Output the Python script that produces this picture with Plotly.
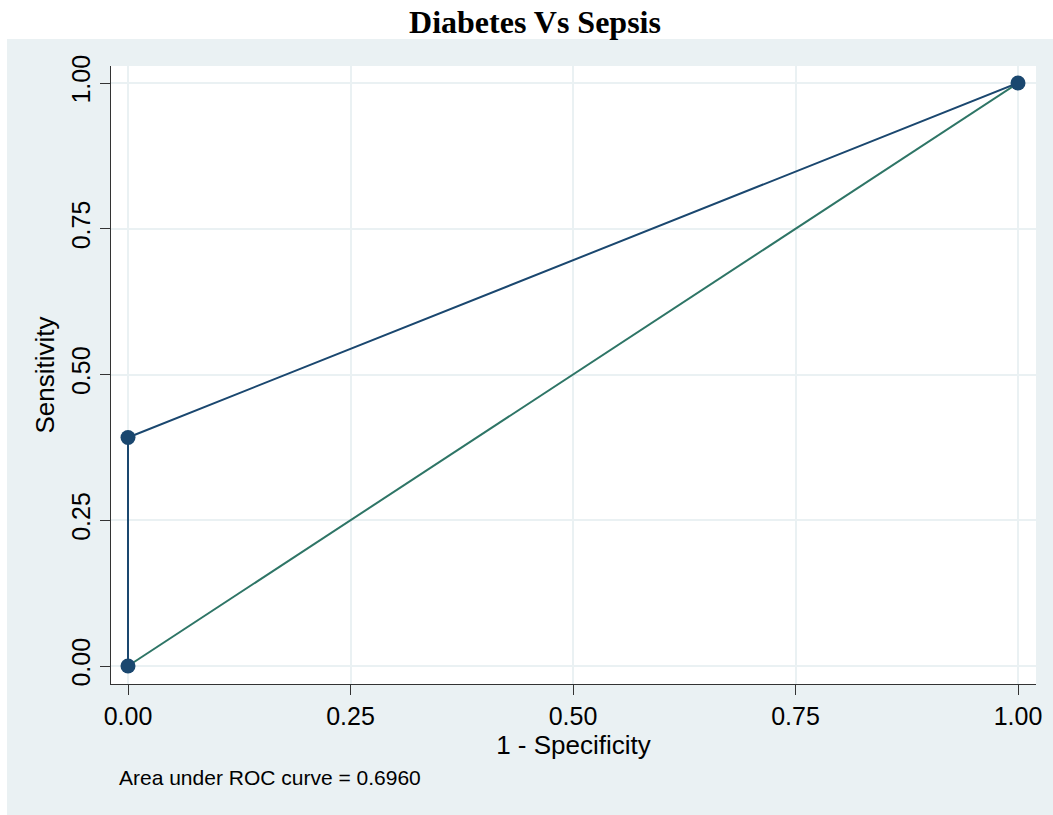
import plotly.graph_objects as go

# Data
roc_fpr = [0.0, 0.0, 1.0]          # 1 - Specificity
roc_sens = [0.0, 0.392, 1.0]       # Sensitivity
ref_x = [0.0, 1.0]
ref_y = [0.0, 1.0]
tick_vals = [0.0, 0.25, 0.5, 0.75, 1.0]
tick_text = ["0.00", "0.25", "0.50", "0.75", "1.00"]
title_text = "Diabetes Vs Sepsis"
auc_text = "Area under ROC curve = 0.6960"

W, H = 1053, 815
L, R, T, B = 111, 1036, 66, 684
pw, ph = R - L, B - T

bg = "#EAF1F3"
navy = "#1A476F"
teal = "#2E7566"
font_sans = "Liberation Sans, Arial, sans-serif"

fig = go.Figure()
fig.add_trace(go.Scatter(x=ref_x, y=ref_y, mode="lines",
                         line=dict(color=teal, width=2), showlegend=False, hoverinfo="skip"))
fig.add_trace(go.Scatter(x=roc_fpr, y=roc_sens, mode="lines+markers",
                         line=dict(color=navy, width=2),
                         marker=dict(color=navy, size=15), showlegend=False))

# background region
fig.add_shape(type="rect", xref="paper", yref="paper",
              x0=(7 - L) / pw, x1=(W + 5 - L) / pw,
              y0=(B - (H + 5)) / ph, y1=(B - 39) / ph,
              fillcolor=bg, line=dict(width=0), layer="below")
fig.add_shape(type="rect", xref="paper", yref="paper",
              x0=0, x1=1, y0=0, y1=1,
              fillcolor="white", line=dict(width=0), layer="below")

x0px, x1px = 128, 1018
y0px, y1px = 666, 83
xs = (x1px - x0px)
ys = (y0px - y1px)
xrange = [-(x0px - L) / xs, 1 + (R - x1px) / xs]
yrange = [-(B - y0px) / ys, 1 + (y1px - T) / ys]

axis_common = dict(
    tickvals=tick_vals, ticktext=tick_text,
    showgrid=True, gridcolor=bg, gridwidth=2,
    zeroline=False, showline=True, linecolor="#333333", linewidth=1.3,
    ticks="outside", ticklen=10, tickcolor="#333333", tickwidth=1.3,
    tickfont=dict(family=font_sans, size=25, color="black"),
    automargin=False,
)

fig.update_layout(
    width=W, height=H,
    margin=dict(l=L, r=W - R, t=T, b=H - B),
    paper_bgcolor="white", plot_bgcolor="rgba(0,0,0,0)",
    title=dict(text="<b>" + title_text + "</b>", x=535 / W, xanchor="center",
               y=1 - 22 / H, yanchor="middle",
               font=dict(family="Liberation Serif, Times New Roman, serif", size=32, color="black")),
    xaxis=dict(range=xrange, title=dict(text="1 - Specificity", standoff=4,
                                        font=dict(family=font_sans, size=26, color="black")),
               **axis_common),
    yaxis=dict(range=yrange, tickangle=-90,
               title=dict(text="Sensitivity", standoff=4,
                          font=dict(family=font_sans, size=26, color="black")),
               **axis_common),
    annotations=[dict(text=auc_text, xref="paper", yref="paper",
                      x=(117 - L) / pw, y=(B - 777) / ph, xanchor="left", yanchor="middle",
                      showarrow=False, font=dict(family=font_sans, size=21, color="black"))],
)

fig.write_html("out.html", config={"displayModeBar": False},
               post_script="document.body.style.margin='0';document.body.style.overflow='hidden';")
